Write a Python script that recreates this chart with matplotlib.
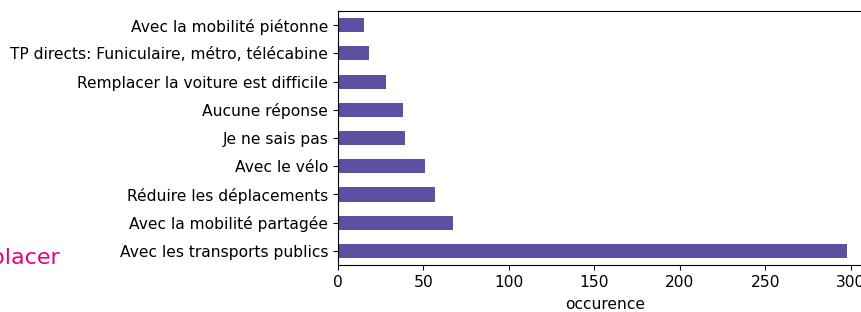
import matplotlib
matplotlib.use("Agg")
import matplotlib.pyplot as plt

categories = [
    "Avec les transports publics",
    "Avec la mobilité partagée",
    "Réduire les déplacements",
    "Avec le vélo",
    "Je ne sais pas",
    "Aucune réponse",
    "Remplacer la voiture est difficile",
    "TP directs: Funiculaire, métro, télécabine",
    "Avec la mobilité piétonne",
]
values = [298, 67, 57, 51, 39, 38, 28, 18, 15]
xticks = [0, 50, 100, 150, 200, 250, 300]

W, H = 862, 312
fig = plt.figure(figsize=(W / 100, H / 100), dpi=100)
left, right, top, bottom = 338, 873, 11, 265
ax = fig.add_axes([left / W, 1 - bottom / H, (right - left) / W, (bottom - top) / H])

fs = 11.2
pos = list(range(len(categories)))
ax.barh(pos, values, height=0.5, color="#5e4fa2")
ax.set_ylim(-0.5, len(categories) - 0.5)
ax.set_xlim(0, 313)
ax.set_yticks(pos)
ax.set_yticklabels(categories, fontsize=fs)
ax.set_xticks(xticks)
ax.set_xticklabels([str(t) for t in xticks], fontsize=fs)
ax.set_xlabel("occurence", fontsize=fs, labelpad=5.5)

fig.text(61 / W, 1 - 258 / H, "Remplacer", color="#e6007e", fontsize=16,
         ha="right", va="center")

fig.savefig("out.png", dpi=100)
